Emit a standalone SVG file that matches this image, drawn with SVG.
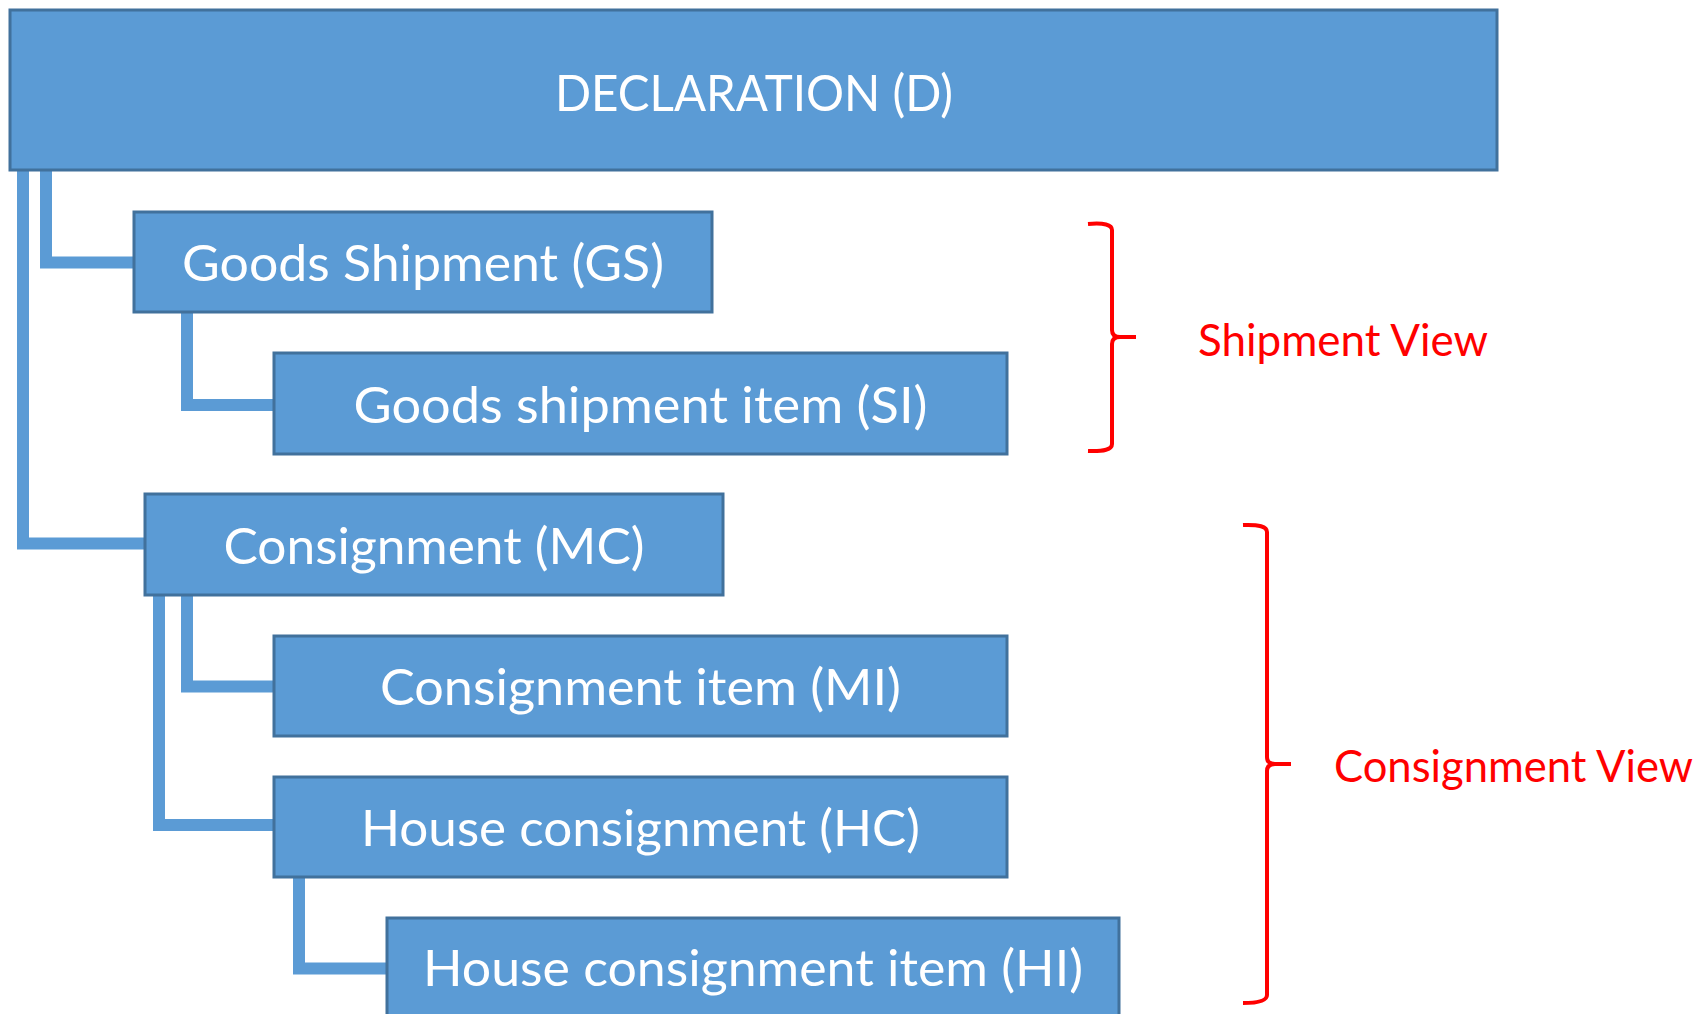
<svg xmlns="http://www.w3.org/2000/svg" width="1702" height="1014" viewBox="0 0 1702 1014">
<style>
.box{fill:#5B9BD5;stroke:#41719C;stroke-width:3}
.lbl{fill:#FFFFFF;font-family:Lato,"Open Sans",sans-serif;font-size:50px;text-anchor:middle}
.conn{fill:none;stroke:#5B9BD5;stroke-width:12;stroke-linejoin:miter}
.brace{fill:none;stroke:#FF0000;stroke-width:4}
.view{fill:#FF0000;font-family:Lato,"Open Sans",sans-serif;font-size:44px}
</style>
<rect width="1702" height="1014" fill="#FFFFFF"/>
<g id="connectors">
<path class="conn" d="M46,170 V262.5 H135"/>
<path class="conn" d="M23,170 V543.5 H146"/>
<path class="conn" d="M187,312 V405 H275"/>
<path class="conn" d="M187,595 V686.5 H275"/>
<path class="conn" d="M159,595 V825 H275"/>
<path class="conn" d="M299,877 V968.5 H388"/>
</g>
<g id="D"><rect class="box" x="10" y="10" width="1487" height="160"/><text class="lbl" x="754" y="111" textLength="398" lengthAdjust="spacingAndGlyphs">DECLARATION (D)</text></g>
<g id="GS"><rect class="box" x="134" y="212" width="578" height="100"/><text class="lbl" x="423" y="281" textLength="482" lengthAdjust="spacingAndGlyphs">Goods Shipment (GS)</text></g>
<g id="SI"><rect class="box" x="274" y="353" width="733" height="101"/><text class="lbl" x="640.5" y="423" textLength="574" lengthAdjust="spacingAndGlyphs">Goods shipment item (SI)</text></g>
<g id="MC"><rect class="box" x="145" y="494" width="578" height="101"/><text class="lbl" x="434" y="564" textLength="421" lengthAdjust="spacingAndGlyphs">Consignment (MC)</text></g>
<g id="MI"><rect class="box" x="274" y="636" width="733" height="100"/><text class="lbl" x="640.5" y="705" textLength="521" lengthAdjust="spacingAndGlyphs">Consignment item (MI)</text></g>
<g id="HC"><rect class="box" x="274" y="777" width="733" height="100"/><text class="lbl" x="640.5" y="846" textLength="559" lengthAdjust="spacingAndGlyphs">House consignment (HC)</text></g>
<g id="HI"><rect class="box" x="387" y="918" width="732" height="110"/><text class="lbl" x="753" y="986" textLength="660" lengthAdjust="spacingAndGlyphs">House consignment item (HI)</text></g>
<g id="shipment-view">
<path class="brace" d="M1088,224 Q1112,222 1112,230 V330 Q1112,337 1120,337 H1136 M1120,337 Q1112,337 1112,344 V444 Q1112,452 1088,451"/>
<text class="view" x="1198" y="356" textLength="290" lengthAdjust="spacingAndGlyphs">Shipment View</text>
</g>
<g id="consignment-view">
<path class="brace" d="M1243,525 Q1267,524 1267,532 V757 Q1267,764 1275,764 H1291 M1275,764 Q1267,764 1267,771 V995 Q1267,1003 1243,1003"/>
<text class="view" x="1334" y="782" textLength="359" lengthAdjust="spacingAndGlyphs">Consignment View</text>
</g>
</svg>
